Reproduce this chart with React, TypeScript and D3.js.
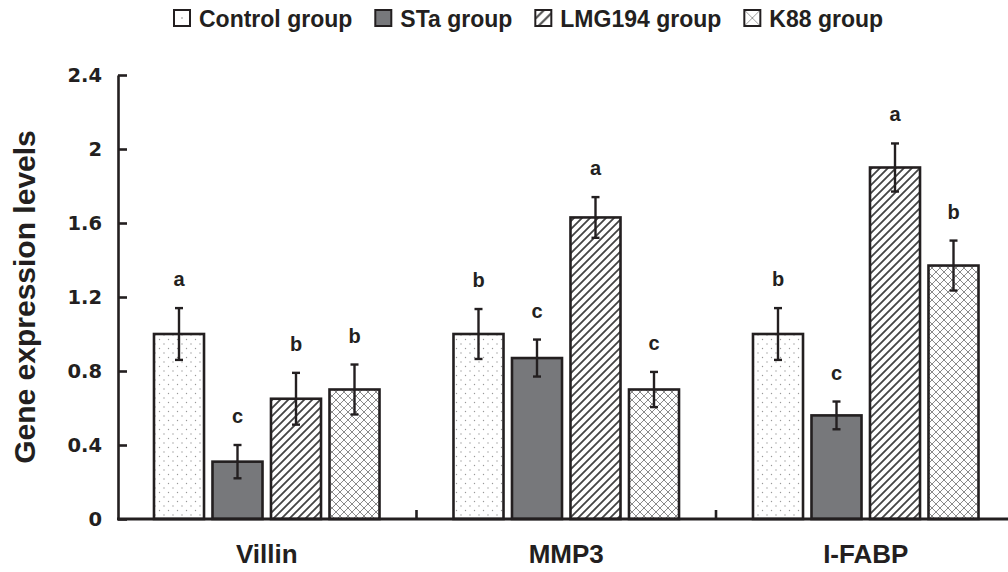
import React, { useEffect, useRef } from "react";
import * as d3 from "d3";

const genes = ["Villin", "MMP3", "I-FABP"];
const groups = ["Control group", "STa group", "LMG194 group", "K88 group"];

// means per gene (Villin, MMP3, I-FABP)
const controlValues = [1.0, 1.0, 1.0];
const staValues = [0.31, 0.87, 0.56];
const lmgValues = [0.65, 1.63, 1.9];
const k88Values = [0.7, 0.7, 1.37];

// error bar half-lengths
const controlErr = [0.14, 0.135, 0.14];
const staErr = [0.09, 0.1, 0.075];
const lmgErr = [0.14, 0.11, 0.13];
const k88Err = [0.135, 0.095, 0.135];

// significance letters
const controlLetters = ["a", "b", "b"];
const staLetters = ["c", "c", "c"];
const lmgLetters = ["b", "a", "a"];
const k88Letters = ["b", "c", "b"];

const yTicks = [0, 0.4, 0.8, 1.2, 1.6, 2, 2.4];

const fills = ["url(#dots)", "#77787b", "url(#hatch)", "url(#cross)"];
const legendFills = ["#fff", "#77787b", "url(#hatchL)", "url(#crossL)"];
const ink = "#231f20";
const font = "'Liberation Sans', Arial, sans-serif";

const App = () => {
  const svgRef = useRef<SVGSVGElement>(null);

  useEffect(() => {
    const w = 1008;
    const h = 572;
    const svg = d3.select(svgRef.current).attr("width", w).attr("height", h);
    svg.selectAll("*").remove();

    const defs = svg.append("defs");
    const dots = defs
      .append("pattern")
      .attr("id", "dots")
      .attr("patternUnits", "userSpaceOnUse")
      .attr("width", 9)
      .attr("height", 9);
    dots.append("rect").attr("width", 9).attr("height", 9).attr("fill", "#fff");
    dots.append("circle").attr("cx", 2).attr("cy", 2).attr("r", 0.7).attr("fill", "#999");
    dots.append("circle").attr("cx", 6.5).attr("cy", 6.5).attr("r", 0.7).attr("fill", "#999");

    const hatch = defs
      .append("pattern")
      .attr("id", "hatch")
      .attr("patternUnits", "userSpaceOnUse")
      .attr("width", 8)
      .attr("height", 8);
    hatch.append("rect").attr("width", 8).attr("height", 8).attr("fill", "#fff");
    hatch
      .append("path")
      .attr("d", "M-1,9 L9,-1 M-2,2 L2,-2 M6,10 L10,6")
      .attr("stroke", "#444")
      .attr("stroke-width", 1.8);

    const cross = defs
      .append("pattern")
      .attr("id", "cross")
      .attr("patternUnits", "userSpaceOnUse")
      .attr("width", 8)
      .attr("height", 8);
    cross.append("rect").attr("width", 8).attr("height", 8).attr("fill", "#fff");
    cross
      .append("path")
      .attr("d", "M0,0 L8,8 M8,0 L0,8")
      .attr("stroke", "#8a8a8a")
      .attr("stroke-width", 1);

    // legend swatches use coarser patterns
    const hatchL = defs
      .append("pattern")
      .attr("id", "hatchL")
      .attr("patternUnits", "objectBoundingBox")
      .attr("width", 1)
      .attr("height", 1)
      .attr("patternContentUnits", "objectBoundingBox");
    hatchL.append("rect").attr("width", 1).attr("height", 1).attr("fill", "#fff");
    hatchL
      .append("path")
      .attr("d", "M0,0.55 L0.55,0 M0.2,1 L1,0.2")
      .attr("stroke", "#555")
      .attr("stroke-width", 0.14);
    const crossL = defs
      .append("pattern")
      .attr("id", "crossL")
      .attr("patternUnits", "objectBoundingBox")
      .attr("width", 1)
      .attr("height", 1)
      .attr("patternContentUnits", "objectBoundingBox");
    crossL.append("rect").attr("width", 1).attr("height", 1).attr("fill", "#fff");
    crossL
      .append("path")
      .attr("d", "M0,0 L1,1 M1,0 L0,1")
      .attr("stroke", "#999")
      .attr("stroke-width", 0.06);

    const yScale = d3.scaleLinear().domain([0, 2.4]).range([519, 75]);
    const x0 = d3
      .scaleBand()
      .domain(genes)
      .range([117, 1015.5])
      .paddingInner(0.247)
      .paddingOuter(0.1235);
    const x1 = d3
      .scaleBand()
      .domain(groups)
      .range([0, x0.bandwidth()])
      .paddingInner(0.145);

    const series = [
      { name: groups[0], values: controlValues, err: controlErr, letters: controlLetters },
      { name: groups[1], values: staValues, err: staErr, letters: staLetters },
      { name: groups[2], values: lmgValues, err: lmgErr, letters: lmgLetters },
      { name: groups[3], values: k88Values, err: k88Err, letters: k88Letters },
    ];

    const rows = series.flatMap((s, si) =>
      genes.map((g, gi) => ({
        gene: g,
        group: s.name,
        si,
        value: s.values[gi],
        err: s.err[gi],
        letter: s.letters[gi],
      }))
    );

    // bars
    svg
      .append("g")
      .selectAll("rect")
      .data(rows)
      .join("rect")
      .attr("x", (d) => x0(d.gene)! + x1(d.group)!)
      .attr("y", (d) => yScale(d.value))
      .attr("width", x1.bandwidth())
      .attr("height", (d) => yScale(0) - yScale(d.value))
      .attr("fill", (d) => fills[d.si])
      .attr("stroke", ink)
      .attr("stroke-width", 2.6);

    // error bars
    const eb = svg.append("g").attr("stroke", ink).attr("stroke-width", 2.4);
    rows.forEach((d) => {
      const cx = x0(d.gene)! + x1(d.group)! + x1.bandwidth() / 2;
      const top = yScale(d.value + d.err);
      const bot = yScale(d.value - d.err);
      eb.append("line").attr("x1", cx).attr("x2", cx).attr("y1", top).attr("y2", bot);
      eb.append("line").attr("x1", cx - 4).attr("x2", cx + 4).attr("y1", top).attr("y2", top);
      eb.append("line").attr("x1", cx - 4).attr("x2", cx + 4).attr("y1", bot).attr("y2", bot);
    });

    // letters
    svg
      .append("g")
      .selectAll("text")
      .data(rows)
      .join("text")
      .attr("x", (d) => x0(d.gene)! + x1(d.group)! + x1.bandwidth() / 2)
      .attr("y", (d) => yScale(d.value + d.err) - 22)
      .attr("text-anchor", "middle")
      .attr("font-family", font)
      .attr("font-weight", "bold")
      .attr("font-size", 20)
      .attr("fill", ink)
      .text((d) => d.letter);

    // y axis
    const yAxis = d3
      .axisLeft(yScale)
      .tickValues(yTicks)
      .tickSizeInner(-9)
      .tickSizeOuter(0)
      .tickPadding(16)
      .tickFormat((d) => String(d));
    const ya = svg.append("g").attr("transform", "translate(118,0)").call(yAxis);
    ya.select(".domain").attr("stroke", ink).attr("stroke-width", 2.6);
    ya.selectAll(".tick line").attr("stroke", ink).attr("stroke-width", 2.6);
    ya.selectAll(".tick text")
      .attr("font-family", "'DejaVu Sans', sans-serif")
      .attr("font-weight", "bold")
      .attr("font-size", 19.5)
      .attr("fill", ink);

    // x axis
    const xa = svg.append("g");
    xa.append("line")
      .attr("x1", 117)
      .attr("x2", w)
      .attr("y1", yScale(0))
      .attr("y2", yScale(0))
      .attr("stroke", ink)
      .attr("stroke-width", 3);
    genes.slice(1).forEach((g) => {
      const bx = x0(g)! - (x0.step() * x0.paddingInner()) / 2;
      xa.append("line")
        .attr("x1", bx)
        .attr("x2", bx)
        .attr("y1", yScale(0))
        .attr("y2", yScale(0) - 9)
        .attr("stroke", ink)
        .attr("stroke-width", 2.6);
    });
    xa.selectAll("text")
      .data(genes)
      .join("text")
      .attr("x", (d) => x0(d)! + x0.bandwidth() / 2)
      .attr("y", 563)
      .attr("text-anchor", "middle")
      .attr("font-family", font)
      .attr("font-weight", "bold")
      .attr("font-size", 26)
      .attr("fill", ink)
      .text((d) => d);

    // y title
    svg
      .append("text")
      .attr("transform", `translate(35,${(yScale(0) + yScale(2.4)) / 2}) rotate(-90)`)
      .attr("text-anchor", "middle")
      .attr("font-family", font)
      .attr("font-weight", "bold")
      .attr("font-size", 30)
      .attr("fill", ink)
      .text("Gene expression levels");

    // legend
    const lg = svg.append("g");
    let lx = 174;
    groups.forEach((g, i) => {
      lg.append("rect")
        .attr("x", lx)
        .attr("y", 10)
        .attr("width", 16)
        .attr("height", 16)
        .attr("fill", legendFills[i])
        .attr("stroke", ink)
        .attr("stroke-width", 2);
      if (i === 0) {
        lg.append("circle").attr("cx", lx + 8).attr("cy", 18).attr("r", 0.8).attr("fill", "#888");
      }
      const t = lg
        .append("text")
        .attr("x", lx + 25)
        .attr("y", 27)
        .attr("font-family", font)
        .attr("font-weight", "bold")
        .attr("font-size", 23)
        .attr("fill", ink)
        .text(g);
      const tw = (t.node() as SVGTextElement).getComputedTextLength();
      lx += 25 + tw + 23;
    });
  }, []);

  return (
    <svg
      ref={svgRef}
      style={{ position: "absolute", left: 0, top: 0, background: "#fff" }}
    />
  );
};

export default App;
